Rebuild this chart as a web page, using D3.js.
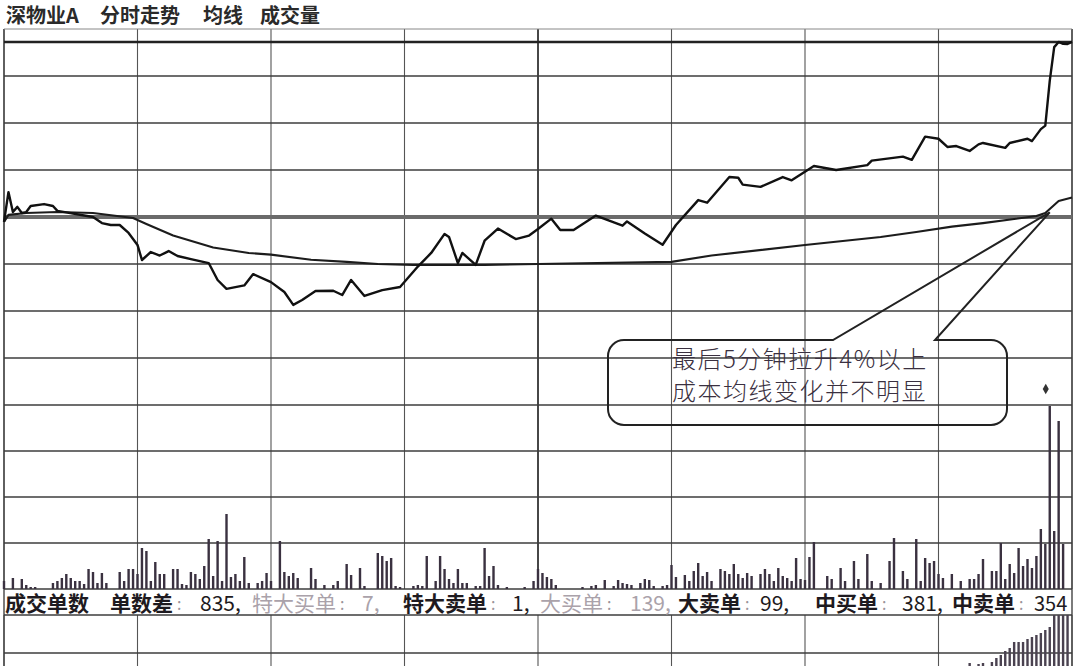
<!DOCTYPE html>
<html>
<head>
<meta charset="utf-8">
<script src="https://cdn.jsdelivr.net/npm/d3@7"></script>
<style>
body { margin: 0; background: #fff; }
svg { display: block; }
</style>
</head>
<body>
<svg id="chart" width="1076" height="666"></svg>
<script>
// minute of the session (0..240) and % change against previous close
var priceMin = [0,1,2,3,4,5,6,9,11,12,20,22,24,26,28,30,31,33,35,37,39,42,46,48,50,54,56,60,63,65,67,70,74,76,78,81,85,89,93,96,99,100,102,103,106,108,111,115,118,120,123,125,128,133,139,140,144,148,151,156,158,163,165,166,170,175,177,182,187,194,195,202,204,207,210,212,214,217,219,220,225,226,230,231,233,234,235,236,237,238,239,240];
var pricePct = [-0.21,1.06,0.21,0.43,0.17,0.21,0.47,0.55,0.47,0.26,0,-0.26,-0.34,-0.34,-0.68,-1.19,-1.83,-1.49,-1.64,-1.45,-1.66,-1.79,-1.96,-2.68,-3.06,-2.91,-2.43,-2.77,-3.19,-3.74,-3.53,-3.15,-3.14,-3.32,-2.68,-3.36,-3.11,-2.98,-2.11,-1.53,-0.72,-0.85,-1.96,-1.53,-2.04,-1.01,-0.49,-0.94,-0.79,-0.51,-0.07,-0.55,-0.55,0.06,-0.37,-0.19,-0.70,-1.18,-0.34,0.72,0.61,1.70,1.67,1.38,1.28,1.70,1.56,2.17,2.00,2.21,2.40,2.57,2.43,3.42,3.33,2.98,3.02,2.81,3.09,3.15,2.94,3.15,3.33,3.23,3.74,3.89,5.79,7.23,7.45,7.37,7.36,7.45];

var avgMin = [0,1,5,12,20,29,32,38,47,55,60,69,77,84,92,108,120,150,159,180,197,205,213,220,232,234,237,240];
var avgPct = [-0.21,0.09,0.17,0.21,0.17,-0.04,-0.30,-0.79,-1.30,-1.53,-1.60,-1.82,-1.91,-2.00,-2.04,-2.04,-2.00,-1.91,-1.64,-1.19,-0.85,-0.64,-0.41,-0.26,0.04,0.17,0.68,0.83];

var volMin = [0,2,4,5,6,7,11,12,13,14,15,16,17,18,19,20,21,22,23,26,27,28,29,30,31,32,33,34,35,36,38,39,40,41,42,43,44,45,46,47,48,49,50,51,52,53,54,55,57,58,59,60,62,63,64,65,66,69,70,72,74,75,77,78,80,81,84,85,86,87,88,89,92,93,94,95,97,98,99,100,101,102,103,104,106,107,108,109,110,111,113,117,119,120,121,122,123,124,130,132,133,135,137,138,139,140,141,143,144,145,146,148,149,150,151,153,154,155,156,157,158,159,161,162,163,164,165,166,167,168,170,171,172,173,174,175,176,177,178,179,180,181,182,185,186,188,189,191,192,194,195,197,199,200,202,203,205,206,207,208,209,210,211,213,215,217,218,219,220,222,223,224,225,226,227,228,229,230,231,232,233,234,235,236,237,238];
var volVal = [8,11,10,4,2,2,6,8,11,15,11,8,8,5,20,17,6,16,6,17,8,20,20,15,41,38,8,27,15,15,20,20,5,4,17,15,10,23,50,13,48,8,75,12,15,8,32,6,6,8,16,8,48,17,13,16,11,21,10,4,4,8,25,14,21,3,36,33,28,31,3,2,3,4,3,33,8,33,20,10,6,20,6,6,3,3,41,13,23,4,2,2,8,20,16,12,10,4,2,3,4,9,3,9,6,5,4,6,10,9,3,3,4,24,12,14,8,18,26,13,17,8,20,18,15,25,15,11,16,13,15,20,15,8,21,13,11,8,31,10,9,32,47,13,10,21,8,28,10,35,8,6,28,51,18,10,50,8,31,26,28,15,11,15,8,10,10,15,30,18,18,46,10,25,16,41,23,30,21,33,60,45,183,58,168,45];

// lower panel bars (only the last minutes are visible)
var lowMin = [217,219,220,222,223,224,225,226,227,228,229,230,231,232,233,234,235,236,237,238,239];
var lowVal = [3,2,3,4,8,11,15,18,24,24,24,27,29,31,33,36,39,51,51,51,51];

var titleParts = ["深物业A", "分时走势", "均线", "成交量"];
var orderLabels = ["单数差", "特大买单", "特大卖单", "大买单", "大卖单", "中买单", "中卖单"];
var orderValues = [835, 7, 1, 139, 99, 381, 354];
var noteLines = ["最后5分钟拉升4%以上", "成本均线变化并不明显"];

var svg = d3.select("#chart");
var W = 1076, H = 666;
var left = 4, right = 1072;
var FONT = "'Noto Sans CJK SC', 'Noto Sans', sans-serif";

var x = d3.scaleLinear().domain([0, 240]).range([left, right]);
var y = d3.scaleLinear().domain([-8, 8]).range([405, 29]);
var yv = d3.scaleLinear().domain([0, 184]).range([589, 405]);
var yl = d3.scaleLinear().domain([0, 51]).range([666, 615]);

svg.append("rect").attr("width", W).attr("height", H).attr("fill", "#fff");

var grid = svg.append("g");

// vertical grid, every 30 minutes
d3.range(0, 241, 30).forEach(function (m) {
    var strong = (m == 120);
    grid.append("line")
        .attr("x1", x(m)).attr("x2", x(m))
        .attr("y1", y(8)).attr("y2", yv(0))
        .attr("stroke", strong ? "#333" : "#555")
        .attr("stroke-width", strong ? 1.8 : 1.1);
    grid.append("line")
        .attr("x1", x(m)).attr("x2", x(m))
        .attr("y1", yl(51)).attr("y2", H)
        .attr("stroke", "#555")
        .attr("stroke-width", 1.1);
});
// frame sides through the whole height
[left, right].forEach(function (px) {
    grid.append("line")
        .attr("x1", px).attr("x2", px).attr("y1", y(8)).attr("y2", H)
        .attr("stroke", "#444").attr("stroke-width", 1.4);
});

// price grid every 2%
d3.range(-8, 9, 2).forEach(function (p) {
    var sw = 1.4, col = "#3c3c3c";
    if (p == 8) { sw = 1; col = "#888"; }
    if (p == 0) { sw = 4; col = "#6b6b6b"; }
    grid.append("line")
        .attr("x1", left).attr("x2", right)
        .attr("y1", y(p)).attr("y2", y(p))
        .attr("stroke", col).attr("stroke-width", sw);
});
// heavy top line of price area
grid.append("line")
    .attr("x1", left).attr("x2", right).attr("y1", 42).attr("y2", 42)
    .attr("stroke", "#222").attr("stroke-width", 2.6);

// volume grid
[46, 92, 138, 0].forEach(function (v) {
    grid.append("line")
        .attr("x1", left).attr("x2", right)
        .attr("y1", yv(v)).attr("y2", yv(v))
        .attr("stroke", "#3c3c3c").attr("stroke-width", 1.4);
});
// lower panel grid
[51, 13].forEach(function (v) {
    grid.append("line")
        .attr("x1", left).attr("x2", right)
        .attr("y1", yl(v)).attr("y2", yl(v))
        .attr("stroke", "#3c3c3c").attr("stroke-width", 1.4);
});

// volume bars
var vols = volMin.map(function (m, i) { return { m: m, v: volVal[i] }; });
svg.append("g").selectAll("rect").data(vols).enter().append("rect")
    .attr("x", function (d) { return x(d.m) - 1.2; })
    .attr("y", function (d) { return yv(d.v); })
    .attr("width", 2.4)
    .attr("height", function (d) { return yv(0) - yv(d.v); })
    .attr("fill", "#3a3140");

var lows = lowMin.map(function (m, i) { return { m: m, v: lowVal[i] }; });
svg.append("g").selectAll("rect").data(lows).enter().append("rect")
    .attr("x", function (d) { return x(d.m) - 1.2; })
    .attr("y", function (d) { return yl(d.v); })
    .attr("width", 2.4)
    .attr("height", function (d) { return yl(0) - yl(d.v); })
    .attr("fill", "#4a4250");

// marker above the big bar
svg.append("path")
    .attr("d", d3.symbol(d3.symbolDiamond).size(32))
    .attr("transform", "translate(" + (x(235) - 4) + "," + (yv(183) - 17) + ")")
    .attr("fill", "#333");

// price + average lines
var avgPts = avgMin.map(function (m, i) { return [x(m), y(avgPct[i])]; });
var pricePts = priceMin.map(function (m, i) { return [x(m), y(pricePct[i])]; });
var line = d3.line();

svg.append("path").attr("d", line(avgPts))
    .attr("fill", "none").attr("stroke", "#1c1c1c").attr("stroke-width", 2.1)
    .attr("stroke-linejoin", "round");
svg.append("path").attr("d", line(pricePts))
    .attr("fill", "none").attr("stroke", "#111").attr("stroke-width", 2.4)
    .attr("stroke-linejoin", "round");

// title
var titleX = [6, 100, 203, 260];
titleParts.forEach(function (t, i) {
    svg.append("text")
        .attr("x", titleX[i]).attr("y", 23)
        .attr("font-family", FONT).attr("font-size", 20)
        .attr("font-weight", 700)
        .attr("fill", "#2a2a2a")
        .text(t);
});

// order count row
var rowY = 611;
var rowFont = 21;
svg.append("text")
    .attr("x", 5).attr("y", rowY)
    .attr("font-family", FONT).attr("font-size", rowFont).attr("font-weight", 700)
    .attr("fill", "#1e1a20").text("成交单数");
var labelX = [110, 252, 403, 540, 678, 815, 952];
var valueX = [200, 362, 512, 630, 760, 902, 1034];
var faded = [1, 3];   // these two items are printed pale in the source
orderLabels.forEach(function (lab, i) {
    var pale = faded.indexOf(i) >= 0;
    var col = pale ? "#aaa2aa" : "#1e1a20";
    svg.append("text")
        .attr("x", labelX[i]).attr("y", rowY)
        .attr("font-family", FONT).attr("font-size", rowFont)
        .attr("font-weight", pale ? 400 : 700)
        .attr("fill", col).text(lab);
    svg.append("text")
        .attr("x", labelX[i] + lab.length * rowFont + 4).attr("y", rowY - 1)
        .attr("font-family", FONT).attr("font-size", 16)
        .attr("fill", "#9a949a").text(":");
    var last = i == orderValues.length - 1;
    svg.append("text")
        .attr("x", valueX[i]).attr("y", rowY)
        .attr("font-family", FONT).attr("font-size", last ? 20 : rowFont)
        .attr("fill", col).text(orderValues[i] + (last ? "" : ","));
});

// callout
var bx0 = 608, by0 = 340, bx1 = 1007, by1 = 425, r = 16;
var tip = [x(235), y(0.2)];
var p = d3.path();
p.moveTo(833, by0);
p.lineTo(bx0 + r, by0);
p.arcTo(bx0, by0, bx0, by0 + r, r);
p.lineTo(bx0, by1 - r);
p.arcTo(bx0, by1, bx0 + r, by1, r);
p.lineTo(bx1 - r, by1);
p.arcTo(bx1, by1, bx1, by1 - r, r);
p.lineTo(bx1, by0 + r);
p.arcTo(bx1, by0, bx1 - r, by0, r);
p.lineTo(935, by0);
p.lineTo(tip[0], tip[1]);
p.closePath();
svg.append("path").attr("d", p.toString())
    .attr("fill", "none").attr("stroke", "#222").attr("stroke-width", 2);

noteLines.forEach(function (t, i) {
    svg.append("text")
        .attr("x", 672).attr("y", 368 + i * 32)
        .attr("font-family", FONT).attr("font-size", 24)
        .attr("font-weight", 300)
        .attr("letter-spacing", 1.5)
        .attr("fill", "#3a3040")
        .text(t);
});
</script>
</body>
</html>
